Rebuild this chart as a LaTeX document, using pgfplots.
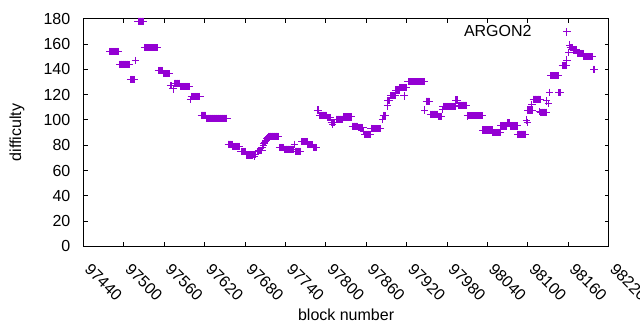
\documentclass[border=0pt]{standalone}
\usepackage{pgfplots}
\pgfplotsset{compat=1.18}
\usepackage{fontspec}
\setmainfont{Liberation Sans}
\definecolor{gv}{HTML}{9400D3}
\begin{document}
\begin{tikzpicture}[font=\fontsize{16pt}{19pt}\selectfont]
\begin{axis}[
  name=ax,
  scale only axis, width=525.2pt, height=227.7pt,
  xmin=97440, xmax=98220, ymin=0, ymax=180,
  scaled x ticks=false, scaled y ticks=false,
  xtick={97440,97500,97560,97620,97680,97740,97800,97860,97920,97980,98040,98100,98160,98220},
  xticklabels={97440,97500,97560,97620,97680,97740,97800,97860,97920,97980,98040,98100,98160,98220},
  ytick={0,20,40,60,80,100,120,140,160,180},
  /pgf/number format/assume math mode=true,
  tick align=inside, major tick length=4pt,
  xtick pos=both, ytick pos=both,
  xticklabel pos=lower, yticklabel pos=left,
  axis line style={line width=1pt},
  every tick/.style={black, line width=1pt},
  xticklabel style={rotate=-45, anchor=south west, inner sep=0pt},
  xticklabel shift=24pt,
  yticklabel style={anchor=east, inner sep=0pt},
  yticklabel shift=13pt,
  xlabel={block number}, ylabel={difficulty},
  xlabel style={at={(axis description cs:0.5,-0.3013)}, anchor=center},
  ylabel style={at={(axis description cs:-0.1266,0.5)}, anchor=center, rotate=0},
  legend plot pos=right,
  legend style={draw=none, fill=none, inner sep=0pt, nodes={inner sep=0pt}, column sep=31.8pt,
    at={(axis description cs:0.9278,0.9416)}, anchor=east},
]
\addplot[only marks, mark=+, mark size=3.6pt, color=gv, line width=1pt] coordinates {
(97479,154)(97480,154)(97481,154)(97482,154)(97483,154)(97484,154)(97485,154)(97486,154)(97487,154)(97488,154)(97489,154)(97490,154)(97491,154)(97492,154)
(97494,144)(97495,144)(97496,144)(97497,144)(97498,144)(97499,144)(97500,144)(97501,144)(97502,144)(97503,144)(97504,144)(97505,144)(97506,144)(97507,144)(97508,144)
(97510,132)(97511,132)(97512,132)(97513,132)(97514,132)(97515,132)
(97517,147)
(97521,178)(97522,178)(97523,178)(97524,178)(97525,178)(97526,178)(97527,178)(97528,178)(97529,178)
(97531,157)(97532,157)(97533,157)(97534,157)(97535,157)(97536,157)(97537,157)(97538,157)(97539,157)(97540,157)(97541,157)(97542,157)(97543,157)(97544,157)(97545,157)(97546,157)(97547,157)(97548,157)(97549,157)(97550,157)
(97551,139)(97552,139)(97553,139)(97554,139)(97555,139)(97556,139)(97557,139)
(97559,136.5)(97560,136.5)(97561,136.5)(97562,136.5)(97563,136.5)(97564,136.5)(97565,136.5)(97566,136.5)(97567,136.5)
(97569,127)(97570,127)(97571,127)(97573,124.5)
(97575,129)(97576,129)(97577,129)(97578,129)(97579,129)(97580,129)(97581,129)(97582,129)(97583,129)
(97584,126.5)(97585,126.5)(97586,126.5)(97587,126.5)(97588,126.5)(97589,126.5)(97590,126.5)(97591,126.5)(97592,126.5)(97593,126.5)(97594,126.5)(97595,126.5)(97596,126.5)(97597,126.5)
(97599,116.3)
(97600,118.5)(97601,118.5)(97602,118.5)(97603,118.5)(97604,118.5)(97605,118.5)(97606,118.5)(97607,118.5)(97608,118.5)(97609,118.5)(97610,118.5)(97611,118.5)(97612,118.5)(97613,118.5)
(97615,103.6)(97616,103.6)(97617,103.6)(97618,103.6)(97619,103.6)(97620,103.6)(97621,103.6)
(97623,101.3)(97624,101.3)(97625,101.3)(97626,101.3)(97627,101.3)(97628,101.3)(97629,101.3)(97630,101.3)(97631,101.3)(97632,101.3)(97633,101.3)(97634,101.3)(97635,101.3)(97636,101.3)(97637,101.3)(97638,101.3)(97639,101.3)(97640,101.3)(97641,101.3)(97642,101.3)(97643,101.3)(97644,101.3)(97645,101.3)(97646,101.3)(97647,101.3)(97648,101.3)(97649,101.3)(97650,101.3)(97651,101.3)(97652,101.3)(97653,101.3)
(97655,80.7)(97656,80.7)(97657,80.7)(97658,80.7)(97659,80.7)(97660,80.7)(97661,80.7)
(97662,79)(97663,79)(97664,79)(97665,79)(97666,79)(97667,79)(97668,79)(97669,79)(97670,79)(97671,79)(97672,79)
(97674,75)(97675,75)(97676,75)(97677,75)(97678,75)(97679,75)(97680,75)
(97682,72.3)(97683,72.3)(97684,72.3)(97685,72.3)(97686,72.3)(97687,72.3)(97688,72.3)(97689,72.3)(97690,72.3)(97691,72.3)
(97692,72.5)(97693,72.5)(97694,72.5)(97695,72.5)(97696,72.5)(97694,71)(97698,75)
(97700,75.7)(97701,75.7)(97702,75.7)(97703,75.7)(97704,75.7)(97705,75.7)
(97706,78)(97707,80)(97708,81)(97709,82)(97710,83)(97711,84)(97712,85)(97713,86)(97714,86)
(97715,87)(97716,87)(97717,87)(97718,87)(97719,87)(97720,87)(97721,87)(97722,87)(97723,87)(97724,87)(97725,87)(97726,87)(97727,87)(97728,87)(97729,87)
(97731,78.3)(97732,78.3)(97733,78.3)(97734,78.3)(97735,78.3)(97736,78.3)(97737,78.3)
(97738,76.8)(97739,76.8)(97740,76.8)(97741,76.8)(97742,76.8)(97743,76.8)(97744,76.8)(97745,76.8)(97746,76.8)(97747,76.8)(97748,76.8)(97749,76.8)(97750,76.8)(97751,76.8)(97752,76.8)
(97753,80.7)
(97755,75.2)(97756,75.2)(97757,75.2)(97758,75.2)(97759,75.2)(97760,75.2)(97761,75.2)(97762,75.2)
(97764,82.8)(97765,82.8)(97766,82.8)(97767,82.8)(97768,82.8)(97769,82.8)(97770,82.8)(97771,82.8)(97772,82.8)
(97773,80.4)(97774,80.4)(97775,80.4)(97776,80.4)(97777,80.4)(97778,80.4)(97779,80.4)(97780,80.4)
(97782,78.3)(97783,78.3)(97784,78.3)(97785,78.3)(97786,78.3)
(97787,107.8)(97788,107.8)(97789,107.8)
(97791,103.6)(97792,103.6)(97793,103.6)(97794,103.6)(97795,103.6)(97796,103.6)(97797,103.6)(97798,103.6)(97799,103.6)(97800,103.6)(97801,103.6)
(97802,101.7)(97803,101.7)(97804,101.7)(97805,101.7)(97806,101.7)(97807,101.7)
(97808,97.8)(97809,97.8)(97810,97.8)(97811,97.8)(97812,97.8)(97813,97.8)(97810,96.5)
(97815,100.5)(97816,100.5)(97817,100.5)(97818,100.5)(97819,100.5)(97820,100.5)(97821,100.5)(97822,100.5)(97823,100.5)(97824,100.5)(97825,100.5)
(97826,102.3)(97827,102.3)(97828,102.3)(97829,102.3)(97830,102.3)(97831,102.3)(97832,102.3)(97833,102.3)(97834,102.3)(97835,102.3)(97836,102.3)(97837,102.3)(97838,102.3)
(97839,95)(97840,95)(97841,95)(97842,95)(97843,95)(97844,95)(97845,95)(97846,95)(97847,95)
(97848,94.1)(97849,94.1)(97850,94.1)(97851,94.1)(97852,94.1)(97853,94.1)(97854,94.1)(97855,94.1)
(97856,90.7)
(97858,88.6)(97859,88.6)(97860,88.6)(97861,88.6)(97862,88.6)(97863,88.6)(97864,88.6)(97865,88.6)(97866,88.6)
(97867,93.4)
(97868,93.1)(97869,93.1)(97870,93.1)(97871,93.1)(97872,93.1)(97873,93.1)(97874,93.1)(97875,93.1)(97876,93.1)(97877,93.1)(97878,93.1)(97879,93.1)(97880,93.1)(97881,93.1)
(97884,100.5)
(97885,103.3)(97886,103.3)(97887,103.3)(97888,103.3)(97889,103.3)
(97891,111)
(97892,115.2)(97893,115.2)(97894,115.2)(97895,115.2)
(97896,119.1)(97897,119.1)(97898,119.1)(97899,119.1)(97900,119.1)(97901,119.1)(97902,119.1)(97903,119.1)
(97904,123.6)(97905,123.6)(97906,123.6)(97907,123.6)(97908,123.6)(97909,123.6)
(97910,125.5)(97911,125.5)(97912,125.5)(97913,125.5)(97914,125.5)(97915,125.5)(97916,125.5)(97917,125.5)(97918,125.5)(97919,125.5)(97920,125.5)
(97916,118.9)
(97922,130.2)(97923,130.2)(97924,130.2)(97925,130.2)(97926,130.2)(97927,130.2)(97928,130.2)(97929,130.2)(97930,130.2)(97931,130.2)(97932,130.2)(97933,130.2)(97934,130.2)(97935,130.2)(97936,130.2)(97937,130.2)(97938,130.2)(97939,130.2)(97940,130.2)(97941,130.2)(97942,130.2)(97943,130.2)(97944,130.2)(97945,130.2)(97946,130.2)(97947,130.2)
(97947,107.8)
(97949,114.7)(97950,114.7)(97951,114.7)(97952,114.7)(97953,114.7)(97954,114.7)
(97955,104.4)(97956,104.4)(97957,104.4)(97958,104.4)(97959,104.4)(97960,104.4)(97961,104.4)(97962,104.4)(97963,104.4)(97964,104.4)(97965,104.4)(97966,104.4)
(97967,102.8)(97968,102.8)(97969,102.8)(97970,102.8)(97971,102.8)(97972,102.8)
(97973,108.4)
(97974,110.6)(97975,110.6)(97976,110.6)(97977,110.6)(97978,110.6)(97979,110.6)(97980,110.6)(97981,110.6)(97982,110.6)(97983,110.6)(97984,110.6)(97985,110.6)(97986,110.6)(97987,110.6)(97988,110.6)(97989,110.6)(97990,110.6)(97991,110.6)(97992,110.6)
(97993,115.7)(97994,115.7)(97995,115.7)(97996,115.7)
(97997,111.6)(97998,111.6)(97999,111.6)(98000,111.6)(98001,111.6)(98002,111.6)(98003,111.6)(98004,111.6)(98005,111.6)(98006,111.6)(98007,111.6)(98008,111.6)(98009,111.6)
(98010,103.1)
(98011,103.3)(98012,103.3)(98013,103.3)(98014,103.3)(98015,103.3)(98016,103.3)(98017,103.3)(98018,103.3)(98019,103.3)(98020,103.3)(98021,103.3)(98022,103.3)(98023,103.3)(98024,103.3)(98025,103.3)(98026,103.3)(98027,103.3)(98028,103.3)(98029,103.3)(98030,103.3)(98031,103.3)(98032,103.3)
(98033,92)(98034,92)(98035,92)(98036,92)(98037,92)(98038,92)(98039,92)(98040,92)(98041,92)(98042,92)(98043,92)(98044,92)(98045,92)(98046,92)(98047,92)
(98048,89.9)(98049,89.9)(98050,89.9)(98051,89.9)(98052,89.9)(98053,89.9)(98054,89.9)(98055,89.9)(98056,89.9)(98057,89.9)(98058,89.9)(98059,89.9)
(98060,95.2)(98061,95.2)(98062,95.2)(98063,95.2)(98064,95.2)(98065,95.2)(98066,95.2)(98067,95.2)(98068,95.2)
(98069,97.5)(98070,97.5)(98071,97.5)(98072,97.5)(98073,97.5)
(98074,95.2)(98075,95.2)(98076,95.2)(98077,95.2)(98078,95.2)(98079,95.2)(98080,95.2)(98081,95.2)(98082,95.2)(98083,95.2)(98084,95.2)
(98085,88.6)(98086,88.6)(98087,88.6)(98088,88.6)(98089,88.6)(98090,88.6)(98091,88.6)(98092,88.6)(98093,88.6)(98094,88.6)(98095,88.6)(98096,88.6)(98097,88.6)
(98098,99.9)(98099,97.8)
(98100,107.8)(98101,107.8)(98102,107.8)(98103,107.8)(98104,107.8)(98105,107.8)(98106,107.8)(98107,107.8)
(98106,112)
(98108,116.3)(98109,116.3)(98110,116.3)(98111,116.3)(98112,116.3)(98113,116.3)(98114,116.3)(98115,116.3)(98116,116.3)(98117,116.3)(98118,116.3)
(98117,106.5)
(98119,106)(98120,106)(98121,106)(98122,106)(98123,106)(98124,106)(98125,106)(98126,106)(98127,106)(98128,106)
(98128,115)(98130,113)(98132,121.8)
(98134,135)(98135,135)(98136,135)(98137,135)(98138,135)(98139,135)(98140,135)(98141,135)(98142,135)(98143,135)(98144,135)(98145,135)
(98146,121.5)(98147,121.5)(98148,121.5)(98149,121.5)
(98151,142.8)(98152,142.8)(98153,142.8)(98154,142.8)(98155,142.8)(98156,142.8)(98157,142.8)
(98158,147.3)(98161,153.4)(98162,159.2)
(98163,157)(98164,157)(98165,157)(98166,157)
(98167,155.5)(98168,155.5)(98169,155.5)(98170,155.5)(98171,155.5)(98172,155.5)
(98173,152.6)(98174,152.6)(98175,152.6)(98176,152.6)(98177,152.6)(98178,152.6)(98179,152.6)(98180,152.6)(98181,152.6)(98182,152.6)
(98183,150)(98184,150)(98185,150)(98186,150)(98187,150)(98188,150)(98189,150)(98190,150)(98191,150)(98192,150)(98193,150)(98194,150)(98195,150)(98196,150)
(98198,140)(98199,140)
};
\addlegendentry{ARGON2}
\end{axis}
\pgfresetboundingbox
\path ([xshift=-83.5pt,yshift=-83.6pt]ax.south west) rectangle ([xshift=31.3pt,yshift=18.7pt]ax.north east);
\end{tikzpicture}
\end{document}
